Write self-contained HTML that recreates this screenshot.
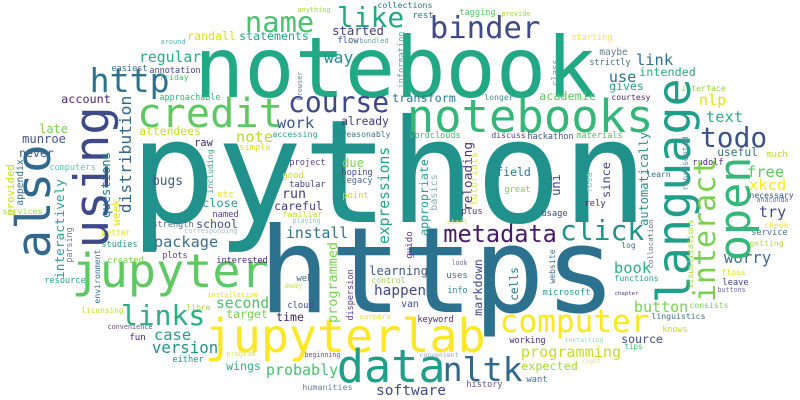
<!DOCTYPE html>
<html><head><meta charset="utf-8"><style>
html,body{margin:0;padding:0;background:#fff;}
svg{display:block;}
text{font-family:"DejaVu Sans Mono","Liberation Mono",monospace;}
</style></head><body>
<svg id="cloud" width="800" height="400" viewBox="0 0 800 400" xmlns="http://www.w3.org/2000/svg">
<rect width="800" height="400" fill="#fff"/>
</svg>
<script>
// word, extent start, extent end, baseline, colour, vertical(1)
// horizontal: x-left, x-right, baseline y ; vertical: y-top, y-bottom, baseline x
const words = [
["python",140,637,222,"#21918c",0],
["https",267,607,312,"#2c728e",0],
["notebook",200,590,97,"#22a884",0],
["notebooks",410,650,132,"#35b779",0],
["jupyterlab",208,482,352,"#fde725",0],
["jupyter",75,265,287,"#5ec962",0],
["data",340,442,382,"#1f9e89",0],
["nltk",445,520,381,"#31688e",0],
["computer",502,647,332,"#fde725",0],
["credit",140,280,127,"#5ec962",0],
["binder",432,538,38,"#3e4a89",0],
["course",290,387,112,"#3e4989",0],
["http",92,167,92,"#2c728e",0],
["name",247,312,32,"#4ac16d",0],
["like",339,402,27,"#22a884",0],
["links",123,203,325,"#2ab07f",0],
["click",562,642,240,"#21918c",0],
["metadata",445,555,242,"#481a6c",0],
["todo",702,765,147,"#3b528b",0],
["programming",522,620,357,"#c2df23",0],
["version",153,217,353,"#21918c",0],
["probably",267,337,375,"#4ac16d",0],
["software",377,445,395,"#3e4a89",0],
["package",155,217,247,"#3b6e8e",0],
["install",287,347,238,"#2c728e",0],
["second",217,268,308,"#4ac16d",0],
["button",635,687,312,"#7ad151",0],
["book",615,650,273,"#2ab07f",0],
["worry",725,770,263,"#3e6f8e",0],
["regular",140,200,62,"#29af7f",0],
["collections",378,432,8,"#2c728e",0],
["anything",298,330,12,"#a0da39",0],
["randall",188,235,40,"#d8e219",0],
["statements",240,308,40,"#20a486",0],
["started",333,383,35,"#443983",0],
["flow",338,358,43,"#3b528b",0],
["bundled",360,388,43,"#6a9fa8",0],
["around",161,185,44,"#57b0a8",0],
["way",325,352,63,"#21918c",0],
["easiest",112,147,71,"#3b6e8e",0],
["annotation",150,200,73,"#414487",0],
["friday",160,188,80,"#4ac16d",0],
["approachable",160,220,100,"#35b779",0],
["account",62,110,103,"#482475",0],
["transform",393,455,102,"#2a788e",0],
["late",40,67,133,"#7ad151",0],
["munroe",23,65,143,"#46568b",0],
["never",20,53,157,"#3b528b",0],
["attendees",140,200,135,"#c2df23",0],
["note",237,272,142,"#b5de2b",0],
["work",278,313,128,"#39568c",0],
["already",342,388,125,"#443983",0],
["accessing",273,317,137,"#2a9d8f",0],
["reasonably",342,390,137,"#46718e",0],
["raw",195,212,146,"#481f70",0],
["simple",240,270,150,"#e2e418",0],
["computers",50,95,170,"#5cc8b0",0],
["bugs",153,182,185,"#3e5a8c",0],
["project",290,325,165,"#5a3f8a",0],
["due",343,363,167,"#7ad151",0],
["hoping",342,372,175,"#3e4989",0],
["legacy",342,372,183,"#4a6a8e",0],
["good",283,303,178,"#d8e219",0],
["tabular",290,325,187,"#414487",0],
["run",283,305,198,"#453781",0],
["etc",218,233,197,"#e5e419",0],
["point",343,368,198,"#c8e020",0],
["rest",413,433,18,"#3b6e8e",0],
["tagging",460,495,15,"#5ec962",0],
["provide",502,530,16,"#a0da39",0],
["starting",572,612,40,"#fde725",0],
["maybe",600,627,55,"#5f7e8e",0],
["strictly",590,630,65,"#46718e",0],
["link",637,672,65,"#2c728e",0],
["intended",640,695,76,"#2ab07f",0],
["use",610,635,82,"#2c728e",0],
["gives",610,643,90,"#2a9d8f",0],
["interface",682,725,91,"#8dd644",0],
["academic",540,595,100,"#5ec962",0],
["longer",485,513,100,"#3b8e8e",0],
["courtesy",612,650,100,"#482878",0],
["nlp",700,725,105,"#e2e418",0],
["text",707,742,122,"#2ab07f",0],
["wordclouds",410,460,138,"#3fbc73",0],
["discuss",492,525,138,"#5b3a8e",0],
["hackathon",528,573,139,"#3e5a8c",0],
["materials",577,622,138,"#4ac16d",0],
["useful",718,757,156,"#2c728e",0],
["much",767,787,157,"#b5de2b",0],
["rudolf",693,723,165,"#482878",0],
["learn",647,670,177,"#3e6f8e",0],
["free",748,783,177,"#5ec962",0],
["xkcd",750,785,190,"#fde725",0],
["necessary",750,793,198,"#3b528b",0],
["field",497,530,176,"#2a788e",0],
["great",505,530,192,"#7ad151",0],
["services",3,42,214,"#a0da39",0],
["close",203,237,207,"#2a9d8f",0],
["named",213,238,217,"#5b3a8e",0],
["careful",275,322,210,"#443983",0],
["familiar",283,322,217,"#c2df23",0],
["playing",293,320,223,"#7fd0b8",0],
["strength",153,193,227,"#46718e",0],
["school",197,237,228,"#3e4a89",0],
["corresponding",185,237,233,"#a8c0cc",0],
["better",102,130,235,"#e2e418",0],
["studies",102,137,247,"#2c8e8c",0],
["plots",163,187,258,"#5b3a8e",0],
["created",108,143,263,"#7ad151",0],
["interested",217,267,263,"#482878",0],
["resource",45,85,283,"#2a9d8f",0],
["web",297,312,281,"#3e6f8e",0],
["learning",370,427,275,"#3e5a8c",0],
["control",372,405,283,"#8dd644",0],
["happen",375,425,295,"#3e4a89",0],
["away",285,302,288,"#c8e060",0],
["installation",208,257,297,"#e5e419",0],
["libre",187,210,310,"#a0da39",0],
["licensing",82,123,313,"#c2df23",0],
["cloud",288,313,308,"#3e4a89",0],
["target",227,267,318,"#7ad151",0],
["time",277,303,321,"#3b1f6e",0],
["corpora",360,390,319,"#e2e418",0],
["convenience",108,152,329,"#6a4f8e",0],
["case",155,190,340,"#2a9d8f",0],
["fun",130,145,340,"#482878",0],
["either",173,203,362,"#2c8e8c",0],
["program",227,255,356,"#d8e260",0],
["beginning",305,340,357,"#6a4f8e",0],
["wings",227,260,370,"#2ab07f",0],
["humanities",303,352,390,"#6a7fa0",0],
["rely",585,605,206,"#482878",0],
["anaconda",757,788,202,"#6a6fa0",0],
["plus",462,482,214,"#443983",0],
["usage",542,567,216,"#3e4a89",0],
["start",447,467,224,"#e0e080",0],
["try",760,785,217,"#3e4a89",0],
["check",765,788,228,"#fde725",0],
["service",752,787,235,"#46718e",0],
["getting",750,783,246,"#b5de2b",0],
["log",622,635,248,"#3e6f8e",0],
["look",452,467,265,"#6a6f8e",0],
["uses",447,467,278,"#3e6f8e",0],
["functions",615,658,281,"#2a9d8f",0],
["floss",722,745,275,"#e2e418",0],
["leave",723,748,285,"#3e4a89",0],
["info",448,467,293,"#2c8e8c",0],
["microsoft",543,590,295,"#2a9d8f",0],
["chapter",615,638,295,"#5b3a8e",0],
["buttons",718,745,292,"#6a6fa0",0],
["van",402,418,307,"#3e4a89",0],
["consists",690,728,308,"#7ad151",0],
["keyword",418,453,322,"#482878",0],
["linguistics",652,705,319,"#3e6f8e",0],
["knows",663,687,332,"#c2df23",0],
["working",510,545,343,"#482878",0],
["installing",565,603,342,"#8fd7c0",0],
["source",622,662,343,"#3e4a89",0],
["tips",625,642,349,"#4ac16d",0],
["convenient",420,458,357,"#8fa0b8",0],
["right",582,600,363,"#e0e080",0],
["expected",522,577,370,"#a0da39",0],
["want",527,547,382,"#46718e",0],
["history",467,502,387,"#6a4f8e",0],
// vertical words: top y, bottom y, baseline x
["using",110,245,108,"#3e4989",1],
["also",148,255,50,"#31688e",1],
["language",82,300,690,"#1f9e89",1],
["open",160,258,750,"#35b779",1],
["interact",160,300,715,"#7ad151",1],
["expressions",148,243,389,"#21a585",1],
["distribution",97,212,131,"#31688e",1],
["questions",153,217,110,"#2a788e",1],
["interactively",180,278,64,"#2a9d8f",1],
["information",32,88,404,"#5aa8a0",1],
["browser",72,100,302,"#6a7f9e",1],
["including",150,193,213,"#3a9d8f",1],
["appendix",160,205,23,"#3b6e8e",1],
["provided",165,215,14,"#c8e020",1],
["class",60,85,558,"#6f9aa0",1],
["automatically",133,225,648,"#2c8e8c",1],
["represented",137,190,688,"#5d8ea8",1],
["reloading",143,210,472,"#46337e",1],
["tutorials",153,205,477,"#d8e260",1],
["appropriate",160,235,428,"#2a9d8f",1],
["basics",175,210,437,"#8ab0b8",1],
["uni",175,195,560,"#3e4a89",1],
["rosa",173,192,592,"#7fc8b0",1],
["since",163,197,610,"#3e4a89",1],
["week",200,225,120,"#e5e419",1],
["parsing",228,262,72,"#6a7f8e",1],
["programmed",243,322,337,"#7ad151",1],
["environment",250,303,100,"#3b6e8e",1],
["dispersion",270,320,353,"#5b3a8e",1],
["collocation",220,268,653,"#6a6f8e",1],
["visualizations",220,288,693,"#a0da39",1],
["guido",232,258,412,"#5b3a8e",1],
["markdown",260,315,482,"#3e4a89",1],
["cells",268,300,518,"#2c728e",1],
["website",250,283,555,"#3e6f8e",1]
];
const svg = document.getElementById('cloud');
const NS = 'http://www.w3.org/2000/svg';
words.forEach(function(w){
  const t = document.createElementNS(NS,'text');
  t.textContent = w[0];
  t.setAttribute('font-size','100');
  t.setAttribute('fill', w[4]);
  
  
  svg.appendChild(t);
  const n = w[0].length;
  const len = t.getComputedTextLength() || (n*60.2);
  const span = w[2] - w[1];
  const size = span * 100 / (len * (n - 0.25) / n);
  t.setAttribute('font-size', size.toFixed(2));
  const shift = size * 0.6 * 0.12;
  if (w[5]) {
    t.setAttribute('transform','translate(' + w[3] + ',' + (w[2] + shift) + ') rotate(-90)');
  } else {
    t.setAttribute('x', (w[1] - shift).toFixed(2));
    t.setAttribute('y', w[3]);
  }
});
</script>
</body></html>
